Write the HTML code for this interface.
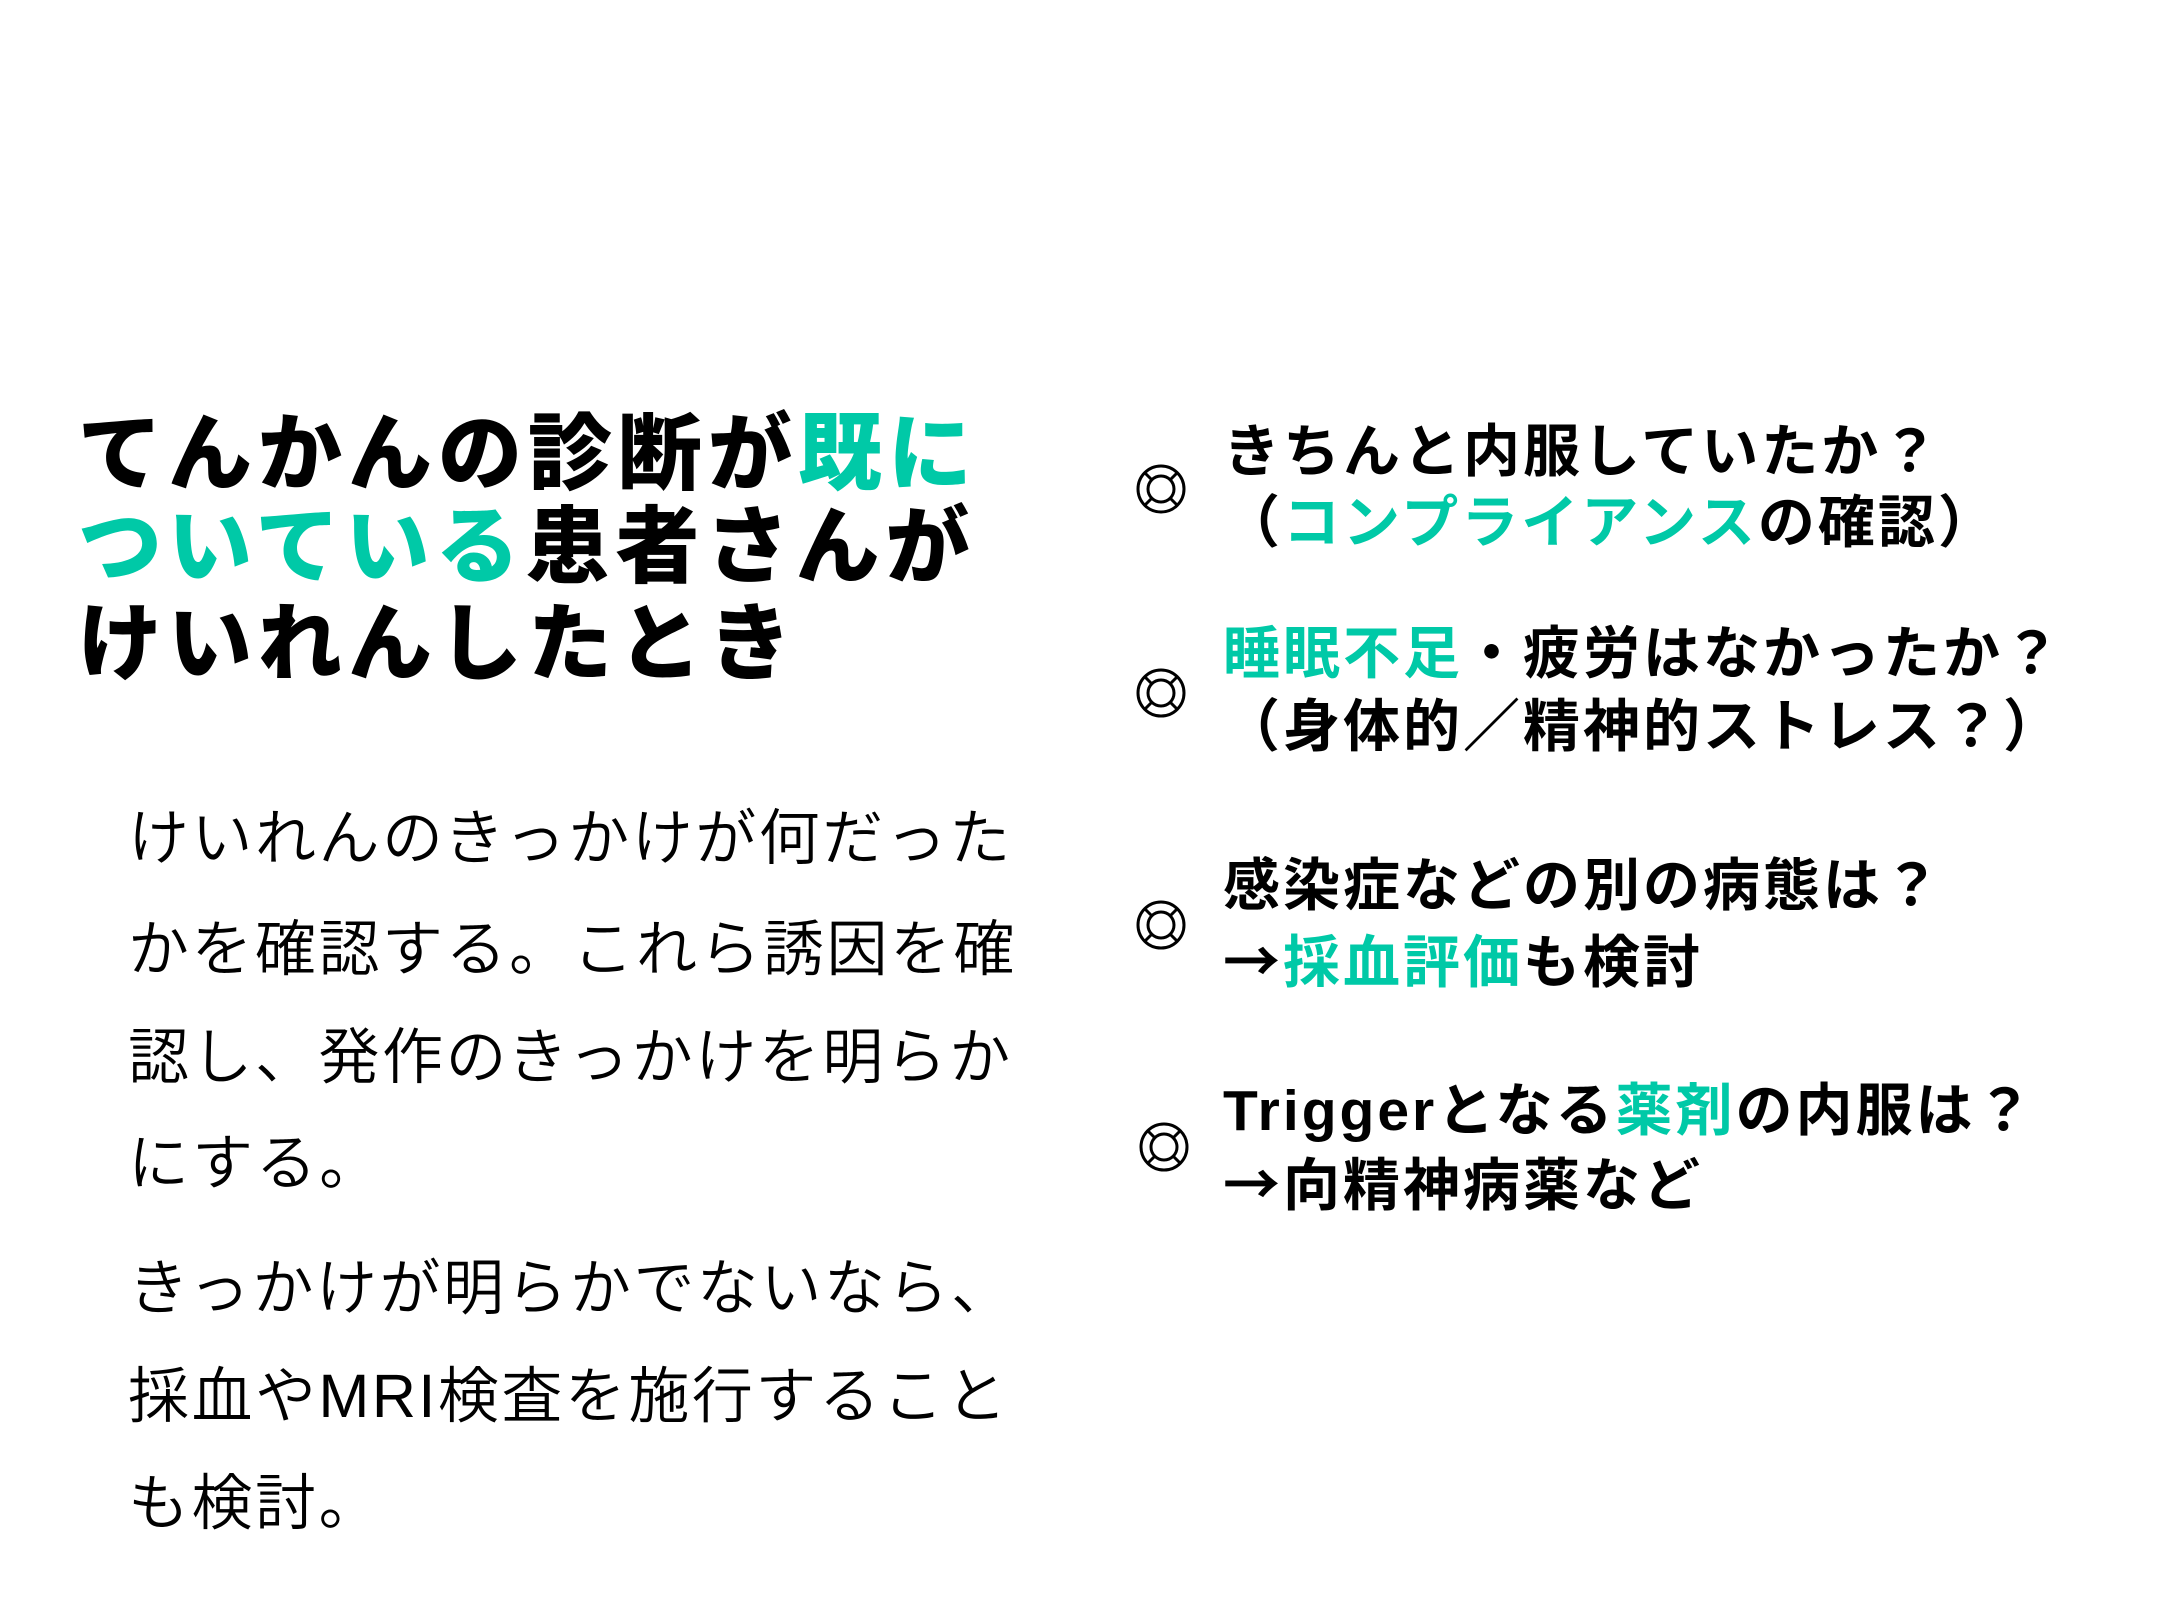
<!DOCTYPE html>
<html><head><meta charset="utf-8"><style>
html,body{margin:0;padding:0;background:#fff;}
body{width:2160px;height:1620px;position:relative;overflow:hidden;font-family:"Liberation Sans","Noto Sans CJK JP",sans-serif;color:#000;}
.l{position:absolute;white-space:nowrap;}
.t{font-weight:900;font-size:84px;line-height:96px;left:78px;letter-spacing:6px;}
.b{font-weight:350;font-size:61px;line-height:80px;left:128px;letter-spacing:2.5px;}
.r{font-weight:700;font-size:57px;line-height:72px;left:1223px;letter-spacing:3px;}
.g{color:#00C9A7;}
.a{font-family:"Noto Sans CJK JP",sans-serif;}
svg{position:absolute;}
</style></head><body>
<div class="l t" style="top:406px">てんかんの診断が<span class="g">既に</span></div>
<div class="l t" style="top:499px"><span class="g">ついている</span>患者さんが</div>
<div class="l t" style="top:596px">けいれんしたとき</div>

<div class="l b" style="top:798px">けいれんのきっかけが何だった</div>
<div class="l b" style="top:909px">かを確認する。これら誘因を確</div>
<div class="l b" style="top:1017px">認し、発作のきっかけを明らか</div>
<div class="l b" style="top:1123px">にする。</div>
<div class="l b" style="top:1248px">きっかけが明らかでないなら、</div>
<div class="l b" style="top:1356px">採血やMRI検査を施行すること</div>
<div class="l b" style="top:1463px">も検討。</div>

<svg width="60" height="60" style="left:1131px;top:459px" viewBox="0 0 60 60"><g fill="none" stroke="#000" stroke-width="3"><circle cx="30" cy="30" r="23"/><circle cx="30" cy="30" r="13"/><line x1="14" y1="14" x2="21" y2="21"/><line x1="46" y1="14" x2="39" y2="21"/><line x1="14" y1="46" x2="21" y2="39"/><line x1="46" y1="46" x2="39" y2="39"/></g></svg>
<svg width="60" height="60" style="left:1131px;top:663px" viewBox="0 0 60 60"><g fill="none" stroke="#000" stroke-width="3"><circle cx="30" cy="30" r="23"/><circle cx="30" cy="30" r="13"/><line x1="14" y1="14" x2="21" y2="21"/><line x1="46" y1="14" x2="39" y2="21"/><line x1="14" y1="46" x2="21" y2="39"/><line x1="46" y1="46" x2="39" y2="39"/></g></svg>
<svg width="60" height="60" style="left:1131px;top:895px" viewBox="0 0 60 60"><g fill="none" stroke="#000" stroke-width="3"><circle cx="30" cy="30" r="23"/><circle cx="30" cy="30" r="13"/><line x1="14" y1="14" x2="21" y2="21"/><line x1="46" y1="14" x2="39" y2="21"/><line x1="14" y1="46" x2="21" y2="39"/><line x1="46" y1="46" x2="39" y2="39"/></g></svg>
<svg width="60" height="60" style="left:1134px;top:1117px" viewBox="0 0 60 60"><g fill="none" stroke="#000" stroke-width="3"><circle cx="30" cy="30" r="23"/><circle cx="30" cy="30" r="13"/><line x1="14" y1="14" x2="21" y2="21"/><line x1="46" y1="14" x2="39" y2="21"/><line x1="14" y1="46" x2="21" y2="39"/><line x1="46" y1="46" x2="39" y2="39"/></g></svg>

<div class="l r" style="top:416px">きちんと内服していたか？</div>
<div class="l r" style="top:487px">（<span class="g">コンプライアンス</span>の確認）</div>
<div class="l r" style="top:618px"><span class="g">睡眠不足</span>・疲労はなかったか？</div>
<div class="l r" style="top:691px">（身体的／精神的ストレス？）</div>
<div class="l r" style="top:850px">感染症などの別の病態は？</div>
<div class="l r" style="top:922px"><span class="a">→</span><span class="g">採血評価</span>も検討</div>
<div class="l r" style="top:1075px">Triggerとなる<span class="g">薬剤</span>の内服は？</div>
<div class="l r" style="top:1145px"><span class="a">→</span>向精神病薬など</div>
</body></html>
